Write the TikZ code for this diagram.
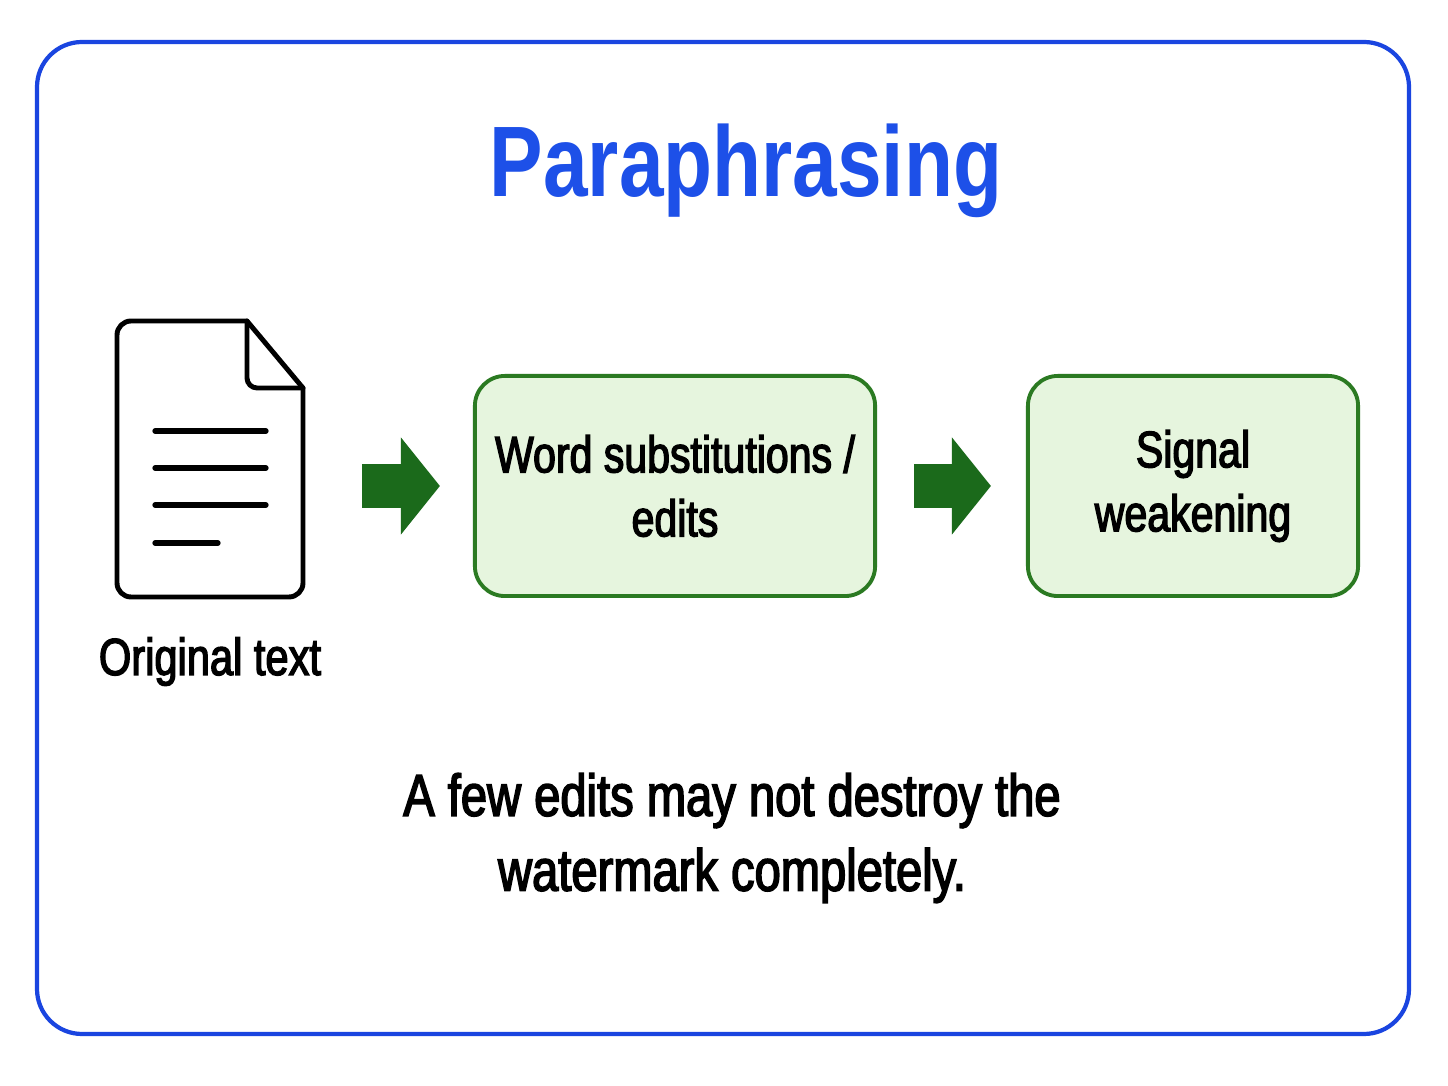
\documentclass[tikz,border=0pt]{standalone}
\usepackage{fontspec}
\setmainfont{Liberation Sans}[FakeStretch=0.8]
\newfontfamily\medfont{Liberation Sans}[FakeStretch=0.8,FakeBold=2.6]
\usetikzlibrary{arrows.meta}
\definecolor{frameblue}{HTML}{1A45E0}
\definecolor{titleblue}{HTML}{1D50E8}
\definecolor{boxgreen}{HTML}{2B7A22}
\definecolor{boxfill}{HTML}{E6F5DE}
\definecolor{arrowgreen}{HTML}{1B6A1B}

\begin{document}
\begin{tikzpicture}[x=0.01cm, y=-0.01cm,
    block/.style={draw=boxgreen, fill=boxfill, line width=1.1pt, rounded corners=0.3cm,
      minimum height=2.2cm, align=center, inner sep=0pt,
      font=\medfont\fontsize{14.6}{18.2}\selectfont},
    blockarrow/.style={arrowgreen, line width=0.43cm, -{Triangle[length=0.39cm, width=0.95cm]}},
    docline/.style={line width=1.4pt, line cap=round, line join=round}]
    \fill[white] (0,0) rectangle (1448,1086);
    \useasboundingbox (0,0) rectangle (1448,1086);
    \draw[frameblue, line width=1.2pt, rounded corners=0.45cm] (37,42) rectangle (1409,1034);

    \node [anchor=base, text=titleblue, font=\bfseries\fontsize{28.5}{34}\selectfont] (title) at (746,197) {Paraphrasing};

    % document icon
    \node [minimum width=1.86cm, minimum height=2.76cm, inner sep=0pt] (doc) at (210,459) {};
    \draw[docline] (303,388) -- (247,321) [rounded corners=0.14cm] -- (117,321) -- (117,597) -- (303,597) -- (303,388);
    \draw[docline, rounded corners=0.1cm] (247,321) -- (247,388) -- (303,388);
    \foreach \y in {431,468,505}
      \draw[docline, line width=1.5pt] (155,\y) -- (266,\y);
    \draw[docline, line width=1.5pt] (155,543) -- (218,543);
    \node [anchor=base, font=\medfont\fontsize{14.8}{18}\selectfont] (doclabel) at (210,675) {Original text};

    \node [block, minimum width=4cm]   (edit) at (675,486) {Word substitutions /\\edits};
    \node [block, minimum width=3.3cm] (weak) at (1193,486) {Signal\\weakening};

    \draw[blockarrow, shorten <=0.58cm, shorten >=0.33cm] (doc.east |- edit.west) -- (edit.west);
    \draw[blockarrow, shorten <=0.37cm, shorten >=0.35cm] (edit) -- (weak);

    \node [align=center, font=\medfont\fontsize{16.75}{21.3}\selectfont] (note) at (732,838)
      {A few edits may not destroy the\\watermark completely.};
\end{tikzpicture}
\end{document}
